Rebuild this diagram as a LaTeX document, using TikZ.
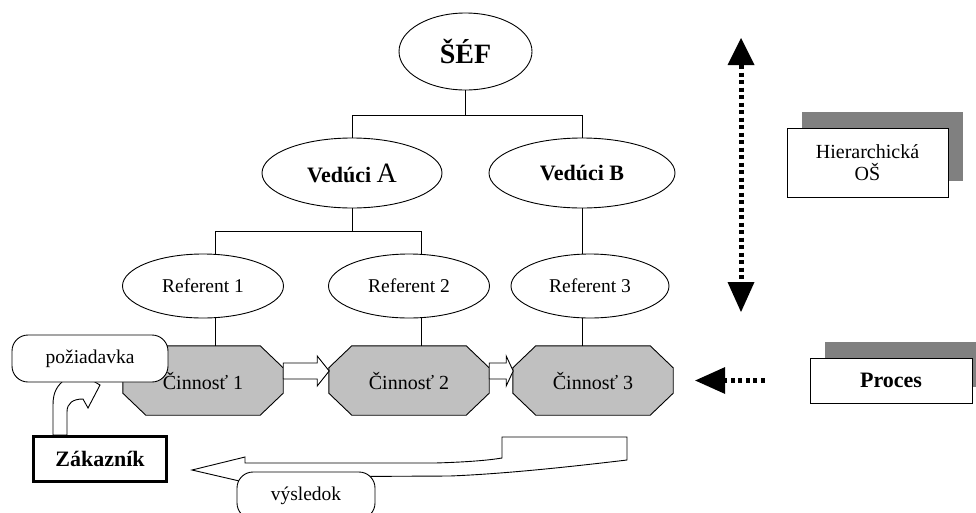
\documentclass[tikz,border=0pt]{standalone}
\usepackage{fontspec}
\setmainfont{Liberation Serif}
\usetikzlibrary{shapes.geometric,arrows.meta,calc,backgrounds,shadows}
\definecolor{octgray}{HTML}{C0C0C0}
\definecolor{shgray}{HTML}{808080}
\begin{document}
\begin{tikzpicture}[x=1pt,y=-1pt,line join=miter,
  thinline/.style={line width=0.9pt},
  ell/.style={ellipse,draw,fill=white,line width=0.9pt,inner sep=0pt},
  octnode/.style={rectangle,minimum width=160pt,minimum height=69pt,inner sep=0pt,font=\fontsize{20}{22}\selectfont},
  reg/.style={font=\fontsize{19.5}{22}\selectfont},
  bld/.style={font=\bfseries\fontsize{22}{24}\selectfont},
  shadowbox/.style={rectangle,draw,fill=white,line width=0.9pt,inner sep=0pt,align=center,
    drop shadow={shadow xshift=15pt,shadow yshift=16pt,fill=shgray,opacity=1}},
  hollow/.style={draw,fill=white,line width=0.9pt},
  dotarrow/.style={line width=5pt,dash pattern=on 4pt off 3.5pt},
  bubble/.style={rectangle,rounded corners=16pt,draw,fill=white,line width=0.9pt,inner sep=0pt}
]
\useasboundingbox (0,0) rectangle (976,512);

% hierarchy nodes
\node[ell,minimum width=133pt,minimum height=77pt,font=\bfseries\fontsize{28}{30}\selectfont] (sef) at (465.5,51.5) {ŠÉF};
\node[ell,minimum width=180pt,minimum height=70pt,bld] (vA) at (352,173) {Vedúci\ {\mdseries\fontsize{28}{30}\selectfont A}};
\node[ell,minimum width=186pt,minimum height=70pt,bld] (vB) at (582,173) {Vedúci B};
\node[ell,minimum width=161pt,minimum height=64pt,reg] (r1) at (203,286) {Referent 1};
\node[ell,minimum width=161pt,minimum height=64pt,reg] (r2) at (409,286) {Referent 2};
\node[ell,minimum width=158pt,minimum height=64pt,reg] (r3) at (590,286) {Referent 3};

% activities
\node[octnode] (c1) at (203,380.5) {Činnosť 1};
\node[octnode] (c2) at (409,380.5) {Činnosť 2};
\node[octnode] (c3) at (593,380.5) {Činnosť 3};
\begin{scope}[on background layer]
\foreach \n in {c1,c2,c3}
  \filldraw[fill=octgray,draw=black,line width=0.9pt]
    ([xshift=23pt]\n.north west) -- ([xshift=-23pt]\n.north east) -- ([yshift=-22pt]\n.north east)
    -- ([yshift=22pt]\n.south east) -- ([xshift=-23pt]\n.south east) -- ([xshift=23pt]\n.south west)
    -- ([yshift=22pt]\n.south west) -- ([yshift=-22pt]\n.north west) -- cycle;
\end{scope}

% tree connectors
\draw[thinline] (sef.south) -- ++(0,25) coordinate (j1);
\draw[thinline] (vA.north) |- (j1) -| (vB.north);
\draw[thinline] (vA.south) -- ++(0,23) coordinate (j2);
\draw[thinline] ([xshift=12pt]r1.north) |- (j2) -| ([xshift=12pt]r2.north);
\draw[thinline] (vB.south) -- ([xshift=-8pt]r3.north);
\draw[thinline] ([xshift=12pt]r1.south) -- ([xshift=12pt]c1.north);
\draw[thinline] ([xshift=12pt]r2.south) -- ([xshift=12pt]c2.north);
\draw[thinline] ([xshift=-8pt]r3.south) -- ([xshift=-11pt]c3.north);

% hollow arrows between activities
\draw[hollow] ($(c1.east)+(0,-17.5)$) -- ++(34,0) -- ++(0,-7) -- ++(12,15) -- ++(-12,15) -- ++(0,-7) -- ++(-34,0) -- cycle;
\draw[hollow] ($(c2.east)+(0,-17.5)$) -- ++(17,0) -- ++(0,-7) -- ++(7,15) -- ++(-7,15) -- ++(0,-7) -- ++(-17,0) -- cycle;

% side labels
\node[shadowbox,minimum width=161pt,minimum height=69pt,font=\fontsize{20}{22}\selectfont] (hier) at (867.5,162.5) {Hierarchická\\OŠ};
\node[shadowbox,minimum width=162pt,minimum height=45pt,bld] (proc) at (891,380.5) {Proces};

% dotted arrows
\coordinate (dt) at (741,38);
\coordinate (db) at (741,312);
\draw[dotarrow,{Triangle[length=27pt,width=27pt,line width=0pt]}-{Triangle[length=30pt,width=27pt,line width=0pt]}] (dt) -- (db);
\draw[dotarrow,-{Triangle[length=30pt,width=27pt,line width=0pt]}] ([xshift=-45pt]proc.west) -- ([xshift=22pt]c3.east);

% customer request arrow
\node[rectangle,draw,line width=3pt,fill=white,minimum width=133pt,minimum height=45pt,bld] (zak) at (100,459) {Zákazník};
\begin{scope}[on background layer]
\draw[hollow] ($(zak.north)+(-47,0)$) -- (53,405) .. controls (53,392) and (57,385) .. (67,378)
  -- (76,371) -- (100,385) -- (88,408) -- (83,399) .. controls (73,399) and (67,403) .. (67,412)
  -- ($(zak.north)+(-33,0)$) -- cycle;
\end{scope}
\node[bubble,minimum width=156pt,minimum height=47pt,reg] (poz) at (90,358.5) {požiadavka};

% result arrow
\draw[hollow] (192,470) -- (245,457) -- (245,463) -- (435,463) .. controls (470,462) and (490,460) .. (502,458)
  -- (502,437) -- (627,437) -- (627,460) .. controls (560,468) and (500,474) .. (450,476)
  -- (248,477) -- (248,483) -- cycle;
\node[bubble,minimum width=138pt,minimum height=47pt,reg] (vys) at (306,495.5) {výsledok};
\end{tikzpicture}
\end{document}
